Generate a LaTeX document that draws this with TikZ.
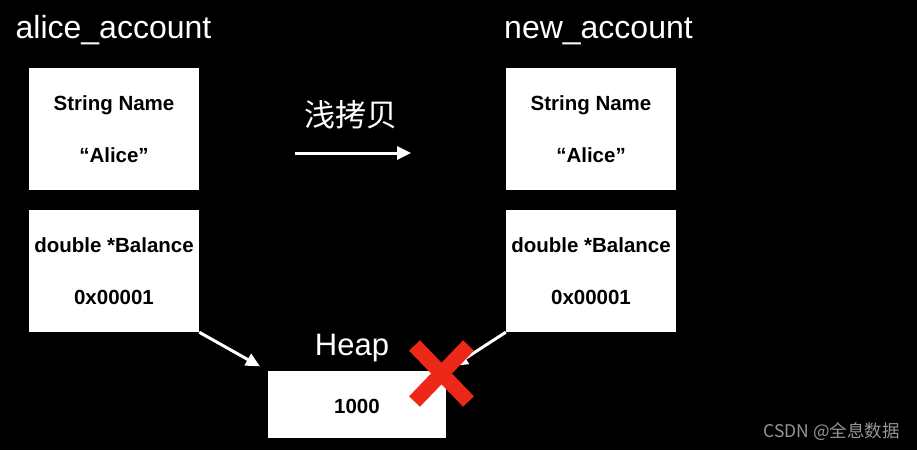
\documentclass[tikz,border=0pt]{standalone}
\usepackage{fontspec}
\setmainfont{Liberation Sans}
\newfontfamily\cjkfont{Noto Sans CJK SC}
\usetikzlibrary{arrows.meta}
\definecolor{crossred}{RGB}{238,40,24}
\definecolor{creditgray}{RGB}{150,150,150}
\tikzset{
    title/.style={text=white, anchor=base, inner sep=0pt, font=\fontsize{32}{32}\selectfont},
    field/.style={fill=white, text=black, inner sep=0pt, align=center,
        execute at begin node={\rule{0pt}{18.5pt}},
        minimum width=170pt, minimum height=122pt, font=\fontsize{20.5}{52}\selectfont\bfseries},
    cntext/.style={text=white, inner sep=0pt, font=\cjkfont\fontsize{31}{31}\selectfont},
    ptr/.style={draw=white, line width=3pt, -{Triangle[length=14pt,width=13pt]}},
    crossline/.style={draw=crossred, line width=15pt},
    credit/.style={text=creditgray, anchor=base east, inner sep=0pt,
        font=\cjkfont\fontsize{17.5}{17.5}\selectfont}
}
\begin{document}
\begin{tikzpicture}[x=1pt,y=-1pt]
		\fill[black] (0,0) rectangle (917,450);
		\useasboundingbox (0,0) rectangle (917,450);

		%alice
		\node[title] (alice) at (113.5,38) {alice\_account};
		\node[field] (aliceName) at (114,129) {String Name\\“Alice”};
		\node[field] (aliceBal) at (114,271) {double *Balance\\0x00001};

		%new
		\node[title] (new) at (598.5,38) {new\_account};
		\node[field] (newName) at (591,129) {String Name\\“Alice”};
		\node[field] (newBal) at (591,271) {double *Balance\\0x00001};

		%copy
		\node[cntext] (copyLabel) at (351,115) {浅拷贝};
		\coordinate (copyL) at (295,153);
		\coordinate (copyR) at (411,153);
		\draw[ptr] (copyL) -- (copyR);

		%heap
		\node[title, font=\fontsize{31}{31}\selectfont] (heapLabel) at (352,355) {Heap};
		\node[field, minimum width=178pt, minimum height=67pt] (heap) at (357,404.5) {1000};

		\draw[ptr, shorten >=9pt] (aliceBal.south east) -- (heap.north west);
		\draw[ptr, shorten >=9pt] (newBal.south west) -- (heap.north east);

		%cross
		\coordinate (cross) at (441.5,373.5);
		\draw[crossline] ([shift={(-27,-28)}]cross) -- ([shift={(27,28)}]cross);
		\draw[crossline] ([shift={(27,-28)}]cross) -- ([shift={(-27,28)}]cross);

		\node[credit] (csdn) at (900,437) {CSDN @全息数据};
\end{tikzpicture}
\end{document}
